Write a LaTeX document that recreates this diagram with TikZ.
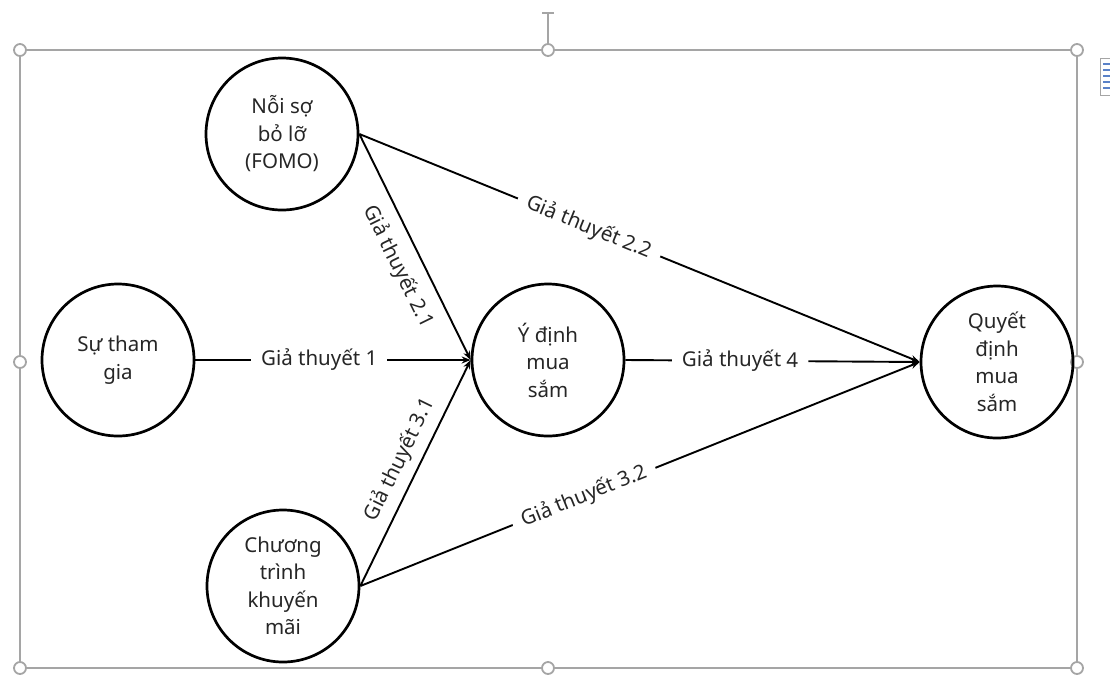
\documentclass[tikz,border=0pt]{standalone}
\usepackage{fontspec}
\setmainfont{Noto Sans}
\usetikzlibrary{arrows.meta}
\definecolor{framegray}{RGB}{165,165,165}
\definecolor{iconblue}{RGB}{90,130,200}
\begin{document}
\begin{tikzpicture}[x=1pt,y=-1pt,
  concept/.style={circle, draw=black, line width=2.7pt, minimum size=152pt, inner sep=0pt,
    align=center, font=\fontsize{20.5}{27.5}\selectfont, text=black!85},
  link/.style={line width=1.9pt, -{Stealth[length=9pt,width=7pt]}},
  lbl/.style={font=\fontsize{20.5}{24}\selectfont, text=black!85, fill=white, inner xsep=10pt, inner ysep=2pt, sloped},
  sidelbl/.style={font=\fontsize{20.5}{24}\selectfont, text=black!85, inner xsep=2pt, inner ysep=2pt, sloped},
  frame/.style={draw=framegray, line width=1.5pt},
  handle/.style={circle, draw=framegray, line width=1.8pt, fill=white, minimum size=12pt, inner sep=0pt}]
\useasboundingbox (0,0) rectangle (1110,678);

% selection frame
\draw[frame] (20,50) rectangle (1077,668);
\node[handle] (h1) at (20,50) {};
\node[handle] (h2) at (548,50) {};
\node[handle] (h3) at (1077,50) {};
\node[handle] (h4) at (20,362) {};
\node[handle] (h5) at (1077,362) {};
\node[handle] (h6) at (20,668) {};
\node[handle] (h7) at (548,668) {};
\node[handle] (h8) at (1077,668) {};
\coordinate (rot) at (548,13);
\draw[frame] (rot) -- (h2.north);
\draw[frame] (542,13) -- (554,13);

% layout options icon
\draw[draw=framegray, line width=1pt, fill=white] (1100,58) rectangle (1116,95);
\foreach \yy in {64,70,76,82,88} \draw[iconblue, line width=2pt] (1103,\yy) -- (1113,\yy);

% concepts
\node[concept] (fomo) at (282,134) {Nỗi sợ\\bỏ lỡ\\(FOMO)};
\node[concept] (thamgia) at (118,360) {Sự tham\\gia};
\node[concept] (ydinh) at (548,360) {Ý định\\mua\\sắm};
\node[concept] (quyet) at (997,362) {Quyết\\định\\mua\\sắm};
\node[concept] (ctkm) at (283,586) {Chương\\trình\\khuyến\\mãi};

% hypotheses
\draw[link] (thamgia.east) -- node[lbl, pos=0.45] {Giả thuyết 1} (ydinh.west);
\draw[link] (fomo.east) -- node[sidelbl, pos=0.54, below=10pt] {Giả thuyết 2.1} (ydinh.west);
\draw[link] (ctkm.east) -- node[sidelbl, pos=0.52, above=6pt] {Giả thuyết 3.1} (ydinh.west);
\draw[link] (fomo.east) -- node[lbl, pos=0.41] {Giả thuyết 2.2} (quyet.west);
\draw[link] (ctkm.east) -- node[lbl, pos=0.40] {Giả thuyết 3.2} (quyet.west);
\draw[link] (ydinh.east) -- node[lbl, pos=0.39] {Giả thuyết 4} (quyet.west);
\end{tikzpicture}
\end{document}
